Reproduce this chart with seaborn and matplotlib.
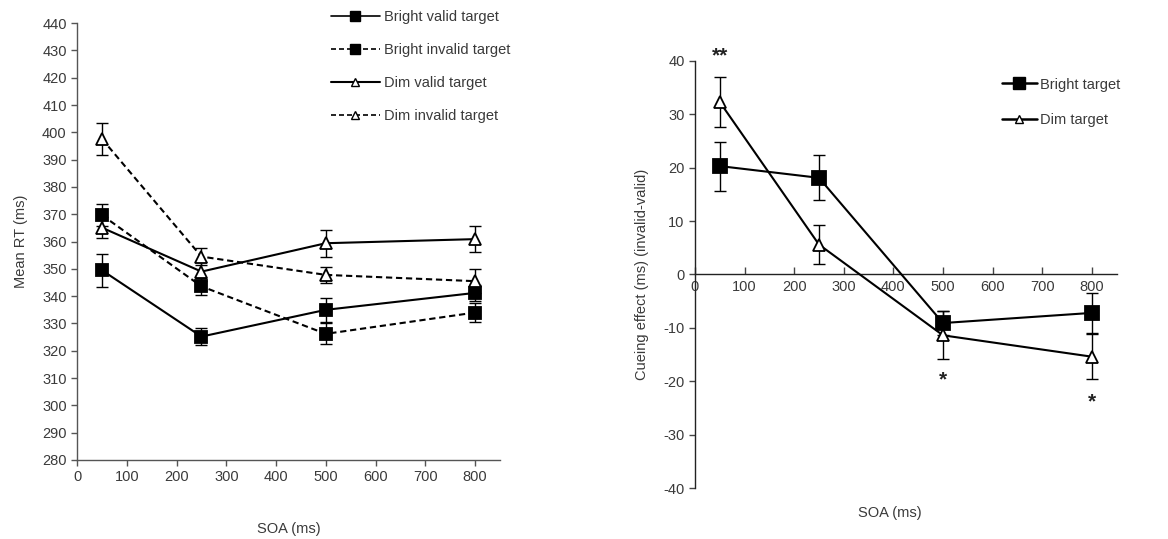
import matplotlib
matplotlib.use("Agg")
import matplotlib.pyplot as plt
import seaborn as sns
import numpy as np
from matplotlib.lines import Line2D

soa = [50, 250, 500, 800]

bright_valid = [349.5, 325.2, 335.0, 341.2]
bright_valid_err = [6.0, 3.2, 4.5, 3.0]
bright_invalid = [369.7, 343.6, 326.2, 334.0]
bright_invalid_err = [4.0, 3.2, 3.8, 3.6]
dim_valid = [365.1, 349.0, 359.4, 360.9]
dim_valid_err = [3.8, 3.5, 5.0, 4.8]
dim_invalid = [397.6, 354.5, 347.8, 345.5]
dim_invalid_err = [6.0, 3.0, 3.0, 4.5]

cue_bright = [20.3, 18.1, -9.1, -7.2]
cue_bright_err = [4.6, 4.2, 2.2, 3.8]
cue_dim = [32.3, 5.6, -11.4, -15.4]
cue_dim_err = [4.6, 3.6, 4.5, 4.2]

left_labels = ["Bright valid target", "Bright invalid target", "Dim valid target", "Dim invalid target"]
right_labels = ["Bright target", "Dim target"]
sig_x = [50, 500, 800]
sig_y = [41.0, -19.8, -23.8]
sig_text = ["**", "*", "*"]

sns.set_style("ticks")
plt.rcParams['font.family'] = ['Liberation Sans', 'DejaVu Sans']
plt.rcParams['axes.unicode_minus'] = False
TXT = '#3a3a3a'
plt.rcParams['text.color'] = TXT
plt.rcParams['xtick.color'] = TXT
plt.rcParams['ytick.color'] = TXT
plt.rcParams['axes.labelcolor'] = TXT

fig = plt.figure(figsize=(11.68, 5.39), dpi=100)
ax1 = fig.add_axes([0.066, 0.1466, 0.362, 0.8104])
ax2 = fig.add_axes([0.595, 0.0946, 0.361, 0.7924])

DASH = (0, (3.0, 1.8))

def draw(ax, y, err, marker, ls, mfc, ms):
    sns.lineplot(x=soa, y=y, ax=ax, color='black', linewidth=1.5, linestyle=ls,
                 marker=marker, markersize=ms, markerfacecolor=mfc,
                 markeredgecolor='black', markeredgewidth=1.3, zorder=3)
    ax.errorbar(soa, y, yerr=err, fmt='none', ecolor='black', elinewidth=1.0,
                capsize=4.5, capthick=1.0, zorder=2)

draw(ax1, bright_valid, bright_valid_err, 's', '-', 'black', 9)
draw(ax1, bright_invalid, bright_invalid_err, 's', DASH, 'black', 9)
draw(ax1, dim_valid, dim_valid_err, '^', '-', 'white', 8)
draw(ax1, dim_invalid, dim_invalid_err, '^', DASH, 'white', 8)

ax1.set_xlim(0, 850)
ax1.set_ylim(280, 440)
ax1.set_xticks(np.arange(0, 801, 100))
ax1.set_yticks(np.arange(280, 441, 10))
sns.despine(ax=ax1)
for s in ['left', 'bottom']:
    ax1.spines[s].set_color('#555555')
    ax1.spines[s].set_linewidth(1.0)
ax1.tick_params(labelsize=10.5, length=4, width=1, color='#555555')
ax1.set_xlabel("SOA (ms)", fontsize=10.5, labelpad=27)
ax1.set_ylabel("Mean RT (ms)", fontsize=10.5, labelpad=10)

h_left = [
    Line2D([], [], color='black', lw=1.2, ls='-', marker='s', ms=7, mfc='black', mec='black'),
    Line2D([], [], color='black', lw=1.2, ls=DASH, marker='s', ms=7, mfc='black', mec='black'),
    Line2D([], [], color='black', lw=1.5, ls='-', marker='^', ms=6, mfc='white', mec='black'),
    Line2D([], [], color='black', lw=1.2, ls=DASH, marker='^', ms=6, mfc='white', mec='black'),
]
fig.legend(h_left, left_labels, loc='upper left', bbox_to_anchor=(0.275, 1.0),
           frameon=False, fontsize=10.5, handlelength=3.3, labelspacing=1.3,
           handletextpad=0.3, borderaxespad=0.3)

draw(ax2, cue_bright, cue_bright_err, 's', '-', 'black', 10)
draw(ax2, cue_dim, cue_dim_err, '^', '-', 'white', 9)

ax2.set_xlim(0, 850)
ax2.set_ylim(-40, 40)
ax2.set_xticks(np.arange(0, 801, 100))
ax2.set_yticks(np.arange(-40, 41, 10))
ax2.spines['bottom'].set_position(('data', 0))
sns.despine(ax=ax2)
for s in ['left', 'bottom']:
    ax2.spines[s].set_color('#222222')
    ax2.spines[s].set_linewidth(1.0)
ax2.tick_params(axis='x', direction='in', labelsize=10.5, length=5, width=1, color='#444444', pad=4)
ax2.tick_params(axis='y', labelsize=10.5, length=4, width=1, color='#444444')
ax2.set_xlabel("")
ax2.set_ylabel("Cueing effect (ms) (invalid-valid)", fontsize=10.5, labelpad=10)
fig.text(0.762, 0.048, "SOA (ms)", fontsize=10.5, ha='center', va='center', color=TXT)

for xv, yv, t in zip(sig_x, sig_y, sig_text):
    ax2.text(xv, yv, t, fontsize=15, fontweight='bold', ha='center', va='center',
             color='#222222', clip_on=False)

h_right = [
    Line2D([], [], color='black', lw=1.8, ls='-', marker='s', ms=8, mfc='black', mec='black'),
    Line2D([], [], color='black', lw=1.8, ls='-', marker='^', ms=6, mfc='white', mec='black'),
]
fig.legend(h_right, right_labels, loc='upper left', bbox_to_anchor=(0.849, 0.875),
           frameon=False, fontsize=10.5, handlelength=2.4, labelspacing=1.45,
           handletextpad=0.2, borderaxespad=0.3)

fig.savefig("out.png", dpi=100)
